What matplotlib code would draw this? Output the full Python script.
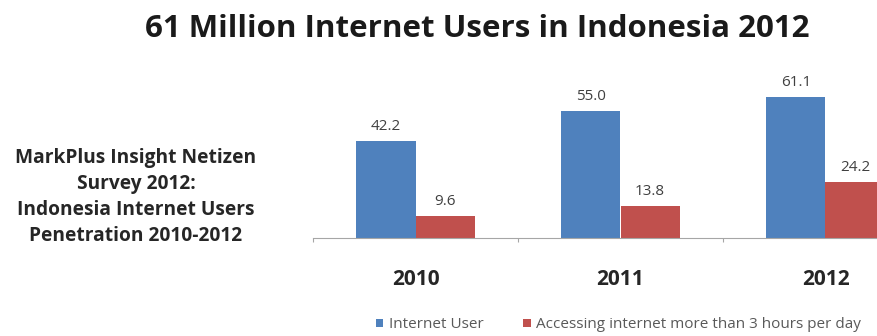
import matplotlib
matplotlib.use("Agg")
import matplotlib.pyplot as plt
import numpy as np

plt.rcParams['font.family'] = ['Open Sans', 'DejaVu Sans']

years = ["2010", "2011", "2012"]
internet_users = [42.2, 55.0, 61.1]
heavy_users = [9.6, 13.8, 24.2]
series_names = ["Internet User", "Accessing internet more than 3 hours per day"]

blue = "#4F81BD"
red = "#C0504D"

fig = plt.figure(figsize=(8.77, 3.36), dpi=100)
ax = fig.add_axes([313 / 877, 98 / 336, 615 / 877, 161.7 / 336])

x = np.arange(len(years))
w = 0.288
b1 = ax.bar(x - w / 2, internet_users, w, color=blue, label=series_names[0])
b2 = ax.bar(x + w / 2, heavy_users, w, color=red, label=series_names[1])

for bars, vals in [(b1, internet_users), (b2, heavy_users)]:
    for rect, v in zip(bars, vals):
        ax.annotate(f"{v:.1f}", (rect.get_x() + rect.get_width() / 2, v),
                    xytext=(0, 5), textcoords="offset points",
                    ha="center", va="bottom", fontsize=11, color="#404040")

ax.set_xlim(-0.5, 2.5)
ax.set_ylim(0, 70)
ax.set_yticks([])
for s in ["top", "right", "left"]:
    ax.spines[s].set_visible(False)
ax.spines["bottom"].set_color("#A6A6A6")
ax.set_xticks([-0.5, 0.5, 1.5])
ax.set_xticklabels([])
ax.tick_params(axis="x", length=3, color="#A6A6A6")

for xi, yr in zip(x, years):
    ax.text(xi, -18, yr, ha="center", va="center", fontsize=15,
            fontweight="bold", color="#262626", clip_on=False)

fig.text(477 / 877, 0.915, "61 Million Internet Users in Indonesia 2012",
         ha="center", va="center", fontsize=22.5, fontweight="bold", color="#1a1a1a")

fig.text(136 / 877, 0.415,
         "MarkPlus Insight Netizen\nSurvey 2012:\nIndonesia Internet Users\nPenetration 2010-2012",
         ha="center", va="center", fontsize=13.8, fontweight="bold",
         color="#262626", linespacing=1.4, multialignment="center")

fig.legend(handles=[b1, b2], loc="center left", bbox_to_anchor=(362 / 877, 0.033),
           ncol=2, frameon=False, fontsize=11, handlelength=0.5, handleheight=0.5,
           handletextpad=0.35, columnspacing=2.6, labelcolor="#595959")

fig.savefig("out.png", dpi=100)
